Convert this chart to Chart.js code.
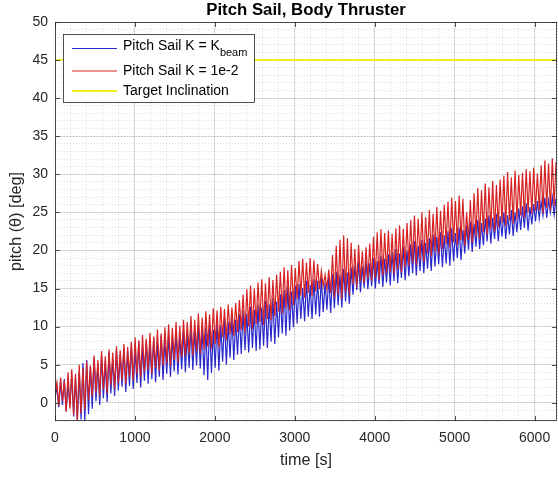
<!DOCTYPE html>
<html>
<head>
<meta charset="utf-8">
<title>Pitch Sail, Body Thruster</title>
<script src="https://cdn.jsdelivr.net/npm/chart.js@4.4.1/dist/chart.umd.min.js"></script>
<style>
  html, body { margin: 0; padding: 0; background: #ffffff; }
  #wrap { width: 558px; height: 477px; }
</style>
</head>
<body>
<div id="wrap"><canvas id="chart" width="558" height="477"></canvas></div>
<script>
// Sampling interval of the logged pitch angle, seconds
const TIME_STEP = 23.3;

// Pitch angle [deg], sail gain K = K_beam
const pitchKbeam = [
  0.5, 2.2, -0.6, 2.8, -0.3, 3.1, -1.0, 2.5, -0.4, 3.6,
  -1.8, 3.2, -2.4, 4.1, -2.2, 5.2, -2.4, 5.6, -1.5, 4.8,
  -0.8, 5.9, 0.2, 5.1, -0.3, 6.2, 0.6, 5.4, 0.1, 6.6,
  1.2, 5.8, 0.9, 6.9, 1.6, 6.3, 2.1, 7.2, 1.4, 6.8,
  2.2, 7.6, 1.8, 7.0, 2.6, 8.0, 2.0, 7.4, 2.9, 8.2,
  2.5, 7.8, 3.1, 8.5, 2.7, 7.9, 3.4, 8.8, 3.0, 8.3,
  3.8, 9.0, 3.4, 8.6, 4.1, 9.4, 3.7, 8.9, 4.4, 9.6,
  4.0, 9.2, 4.6, 10.1, 4.3, 9.5, 4.9, 10.3, 4.5, 9.8,
  3.6, 9.9, 3.0, 10.4, 3.9, 9.6, 4.6, 10.7, 4.2, 10.2,
  5.4, 11.0, 5.0, 10.6, 5.9, 11.3, 5.6, 10.9, 6.3, 11.6,
  6.4, 12.1, 6.9, 11.7, 6.6, 12.6, 7.2, 12.2, 6.8, 12.9,
  7.0, 12.5, 7.5, 13.4, 7.2, 12.9, 8.0, 13.8, 7.7, 13.3,
  8.6, 14.2, 9.1, 14.8, 8.8, 15.3, 9.5, 14.6, 9.9, 15.4,
  10.4, 15.6, 11.0, 15.1, 10.7, 16.0, 11.3, 15.5, 11.0, 16.2,
  11.6, 16.0, 11.3, 16.4, 11.9, 15.8, 12.2, 16.6, 11.8, 16.9,
  12.4, 17.2, 12.8, 16.8, 12.5, 17.6, 13.3, 17.1, 13.0, 17.8,
  14.2, 18.0, 14.8, 18.5, 14.5, 17.9, 15.1, 18.7, 14.9, 18.3,
  15.3, 19.0, 15.0, 18.6, 15.6, 19.3, 15.2, 18.9, 15.8, 19.5,
  15.4, 19.8, 16.0, 20.2, 15.7, 19.6, 16.4, 20.5, 16.1, 20.0,
  16.6, 20.8, 17.0, 21.2, 16.7, 20.6, 17.3, 21.4, 17.0, 21.0,
  17.6, 21.6, 17.3, 22.1, 17.9, 21.8, 18.2, 22.4, 17.8, 22.0,
  18.3, 22.5, 18.0, 22.9, 18.6, 22.3, 19.0, 23.0, 18.7, 22.7,
  19.6, 23.3, 20.1, 23.8, 19.8, 23.5, 20.5, 24.0, 20.2, 23.6,
  20.7, 24.2, 21.2, 24.6, 20.9, 24.3, 21.5, 24.8, 21.2, 24.5,
  21.8, 25.0, 21.5, 24.6, 22.1, 25.3, 21.9, 25.0, 22.4, 25.5,
  22.7, 25.8, 23.0, 26.2, 22.6, 25.7, 23.4, 26.1, 23.8, 26.5,
  24.2, 26.4, 24.6, 26.9, 24.3, 26.6, 25.0, 27.0, 24.7, 26.8
];

// Pitch angle [deg], sail gain K = 1e-2
const pitchK1e2 = [
  1.0, 2.6, -0.4, 3.3, 0.2, 2.9, -1.2, 4.0, -0.8, 4.4,
  -1.6, 3.8, -2.4, 5.0, -1.4, 4.6, -0.9, 5.4, 0.3, 4.9,
  0.8, 6.2, 1.3, 5.6, 0.9, 6.8, 1.7, 6.1, 1.2, 7.0,
  2.3, 6.6, 1.8, 7.4, 2.6, 6.9, 3.0, 7.7, 2.5, 7.3,
  3.4, 8.0, 2.9, 8.6, 3.7, 8.2, 3.3, 8.9, 4.0, 8.4,
  4.3, 9.2, 3.8, 8.7, 4.6, 9.6, 4.2, 9.1, 4.9, 9.9,
  5.2, 10.3, 4.8, 9.8, 5.6, 10.6, 5.3, 10.1, 6.0, 10.9,
  6.1, 10.6, 6.5, 11.4, 6.2, 10.9, 6.8, 11.7, 6.4, 11.2,
  7.0, 12.0, 7.4, 11.6, 7.1, 12.4, 7.7, 12.1, 7.3, 12.6,
  8.6, 12.3, 8.2, 12.9, 9.0, 12.5, 8.8, 13.1, 9.3, 13.5,
  9.6, 14.2, 9.2, 14.9, 10.0, 15.4, 9.7, 15.0, 10.3, 15.8,
  10.6, 16.2, 10.2, 15.7, 11.0, 16.5, 10.8, 16.1, 11.4, 16.8,
  12.0, 17.2, 11.7, 17.8, 12.4, 17.4, 12.1, 18.1, 12.8, 17.7,
  13.6, 18.6, 14.1, 18.9, 13.8, 18.4, 14.4, 19.0, 14.0, 18.7,
  14.6, 18.2, 14.9, 17.3, 15.3, 16.8, 15.0, 17.5, 14.4, 19.4,
  13.8, 20.6, 14.2, 21.4, 13.6, 22.0, 14.5, 21.6, 14.1, 21.0,
  15.6, 20.2, 15.2, 20.7, 16.0, 19.9, 15.7, 20.4, 16.3, 20.9,
  16.0, 21.8, 16.4, 22.4, 16.1, 22.8, 16.7, 22.3, 17.0, 22.6,
  17.2, 22.2, 16.9, 22.9, 17.5, 23.3, 17.1, 22.8, 17.8, 23.6,
  18.0, 24.0, 18.4, 24.6, 18.1, 24.2, 18.8, 25.0, 18.5, 24.4,
  19.6, 25.3, 19.2, 24.8, 19.9, 25.7, 19.5, 25.2, 20.2, 26.0,
  20.8, 26.4, 20.4, 26.9, 21.1, 26.5, 20.7, 27.2, 21.3, 26.8,
  20.6, 25.0, 21.4, 26.6, 21.0, 27.5, 21.8, 28.2, 21.5, 27.9,
  22.4, 28.8, 22.0, 28.3, 22.8, 29.1, 22.5, 28.6, 23.0, 29.3,
  23.6, 29.8, 23.2, 30.3, 23.9, 29.6, 23.5, 30.5, 24.1, 29.9,
  24.6, 30.2, 24.3, 30.7, 25.0, 30.4, 24.8, 30.9, 25.2, 30.1,
  25.3, 31.2, 24.9, 31.8, 25.6, 31.4, 25.2, 32.1, 25.8, 31.6
];

// Target inclination [deg]
const targetInclination = 45;

// Axis limits and tick values
const xLimits = [0, 6280];
const yLimits = [-2.4, 50];
const xTickValues = [0, 1000, 2000, 3000, 4000, 5000, 6000];
const yTickValues = [0, 5, 10, 15, 20, 25, 30, 35, 40, 45, 50];
const xMinorStep = 200;
const yMinorStep = 1;

// Text
const titleText = 'Pitch Sail, Body Thruster';
const xLabelText = 'time [s]';
const yLabelText = 'pitch (\u03B8) [deg]';
const legendEntries = [
  { text: 'Pitch Sail K = K', sub: 'beam', color: 'rgb(40,40,205)' },
  { text: 'Pitch Sail K = 1e-2', sub: '', color: 'rgb(214,34,34)' },
  { text: 'Target Inclination', sub: '', color: 'rgb(240,240,30)' }
];

const FONT = '"Liberation Sans", Arial, Helvetica, sans-serif';
const AXIS_COLOR = '#262626';
const BLUE = legendEntries[0].color;
const RED = legendEntries[1].color;
const YELLOW = legendEntries[2].color;

function toPoints(values) {
  return values.map((v, i) => ({ x: i * TIME_STEP, y: v }));
}

const setTicks = values => scale => {
  scale.ticks = values.map(v => ({ value: v }));
};

// Title, axis labels, axes box with inward ticks, and the legend
const decorations = {
  id: 'decorations',
  afterDraw(chart) {
    const { ctx, chartArea: a, scales } = chart;
    ctx.save();

    // axes box
    ctx.strokeStyle = AXIS_COLOR;
    ctx.lineWidth = 0.8;
    ctx.strokeRect(a.left + 0.5, a.top + 0.5, a.right - a.left - 1, a.bottom - a.top - 1);

    // inward tick marks on all four sides
    const tickLen = 5;
    ctx.beginPath();
    scales.x.ticks.forEach(t => {
      const px = Math.round(scales.x.getPixelForValue(t.value)) + 0.5;
      ctx.moveTo(px, a.bottom); ctx.lineTo(px, a.bottom - tickLen);
      ctx.moveTo(px, a.top); ctx.lineTo(px, a.top + tickLen);
    });
    scales.y.ticks.forEach(t => {
      const py = Math.round(scales.y.getPixelForValue(t.value)) + 0.5;
      ctx.moveTo(a.left, py); ctx.lineTo(a.left + tickLen, py);
      ctx.moveTo(a.right, py); ctx.lineTo(a.right - tickLen, py);
    });
    ctx.stroke();

    // title
    ctx.fillStyle = '#000000';
    ctx.font = 'bold 16.8px ' + FONT;
    ctx.textAlign = 'center';
    ctx.textBaseline = 'middle';
    ctx.fillText(titleText, (a.left + a.right) / 2, 10.5);

    // axis labels
    ctx.fillStyle = AXIS_COLOR;
    ctx.font = '16.2px ' + FONT;
    ctx.fillText(xLabelText, (a.left + a.right) / 2, 461);
    ctx.save();
    ctx.translate(17, (a.top + a.bottom) / 2);
    ctx.rotate(-Math.PI / 2);
    ctx.fillText(yLabelText, 0, 0);
    ctx.restore();

    // legend
    const box = { x: 63, y: 34, w: 191, h: 68 };
    ctx.fillStyle = '#ffffff';
    ctx.fillRect(box.x, box.y, box.w, box.h);
    ctx.strokeStyle = AXIS_COLOR;
    ctx.lineWidth = 0.8;
    ctx.strokeRect(box.x + 0.5, box.y + 0.5, box.w, box.h);
    const rows = [48.5, 71, 91];
    const textY = [46.5, 71, 91];
    ctx.textAlign = 'left';
    ctx.textBaseline = 'middle';
    legendEntries.forEach((e, i) => {
      ctx.strokeStyle = e.color;
      ctx.lineWidth = i === 2 ? 2 : 1;
      ctx.beginPath();
      ctx.moveTo(72, rows[i]);
      ctx.lineTo(117, rows[i]);
      ctx.stroke();
      ctx.fillStyle = '#000000';
      ctx.font = '14px ' + FONT;
      ctx.fillText(e.text, 123, textY[i]);
      if (e.sub) {
        const w = ctx.measureText(e.text).width;
        ctx.font = '11px ' + FONT;
        ctx.fillText(e.sub, 123 + w, textY[i] + 6);
      }
    });
    ctx.restore();
  }
};

const chart = new Chart(document.getElementById('chart'), {
  type: 'line',
  data: {
    datasets: [
      {
        label: 'Target Inclination',
        data: [{ x: xLimits[0], y: targetInclination }, { x: xLimits[1], y: targetInclination }],
        xAxisID: 'x', yAxisID: 'y',
        borderColor: YELLOW, borderWidth: 2, pointRadius: 0, order: 0
      },
      {
        label: 'Pitch Sail K = 1e-2',
        data: toPoints(pitchK1e2),
        xAxisID: 'x', yAxisID: 'y',
        borderColor: RED, borderWidth: 1.2, pointRadius: 0, order: 1
      },
      {
        label: 'Pitch Sail K = K_beam',
        data: toPoints(pitchKbeam),
        xAxisID: 'x', yAxisID: 'y',
        borderColor: BLUE, borderWidth: 1.2, pointRadius: 0, order: 2
      }
    ]
  },
  options: {
    responsive: false,
    animation: false,
    devicePixelRatio: 1,
    layout: { padding: { left: 0, right: 1, top: 22, bottom: 0 } },
    elements: { line: { tension: 0 } },
    plugins: { legend: { display: false }, title: { display: false }, tooltip: { enabled: false } },
    scales: {
      x: {
        type: 'linear', position: 'bottom', min: xLimits[0], max: xLimits[1],
        afterBuildTicks: setTicks(xTickValues),
        ticks: { autoSkip: false, maxRotation: 0, padding: 9,
                 callback: v => String(v),
                 color: AXIS_COLOR, font: { family: FONT, size: 14 } },
        grid: { color: 'rgba(38,38,38,0.15)', lineWidth: 1, drawTicks: false },
        border: { display: false },
        afterFit: s => { s.height = 56; s.paddingLeft = 0; s.paddingRight = 0; }
      },
      y: {
        type: 'linear', position: 'left', min: yLimits[0], max: yLimits[1],
        afterBuildTicks: setTicks(yTickValues),
        ticks: { autoSkip: false, padding: 7,
                 callback: v => String(v),
                 color: AXIS_COLOR, font: { family: FONT, size: 14 } },
        grid: { color: 'rgba(38,38,38,0.15)', lineWidth: 1, drawTicks: false },
        border: { display: false },
        afterFit: s => { s.width = 55; s.paddingTop = 0; s.paddingBottom = 0; }
      },
      xMinor: {
        type: 'linear', position: 'bottom', min: xLimits[0], max: xLimits[1],
        ticks: { display: false, stepSize: xMinorStep, autoSkip: false },
        grid: { color: 'rgba(38,38,38,0.16)', lineWidth: 1, drawTicks: false },
        border: { display: false, dash: [1, 2] },
        afterFit: s => { s.height = 0; s.paddingLeft = 0; s.paddingRight = 0; }
      },
      yMinor: {
        type: 'linear', position: 'left', min: yLimits[0], max: yLimits[1],
        ticks: { display: false, stepSize: yMinorStep, autoSkip: false },
        grid: { color: 'rgba(38,38,38,0.16)', lineWidth: 1, drawTicks: false },
        border: { display: false, dash: [1, 2] },
        afterFit: s => { s.width = 0; s.paddingTop = 0; s.paddingBottom = 0; }
      }
    }
  },
  plugins: [decorations]
});
</script>
</body>
</html>
